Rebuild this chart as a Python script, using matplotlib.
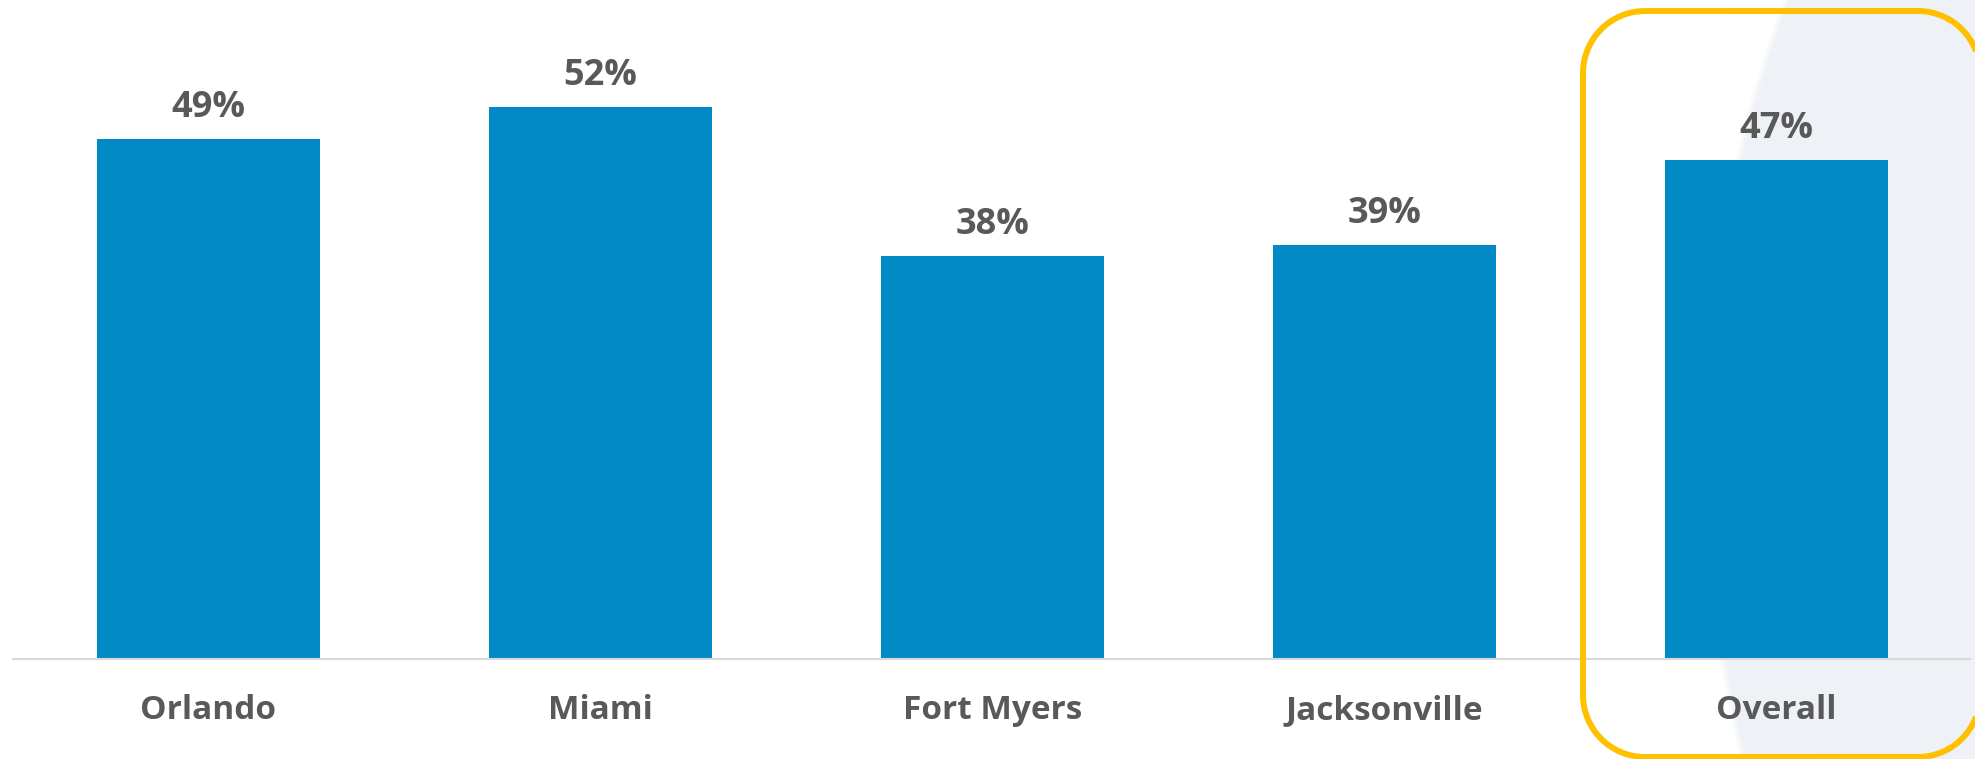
import numpy as np
import matplotlib
matplotlib.use("Agg")
import matplotlib.pyplot as plt
from matplotlib.patches import Circle
from matplotlib.lines import Line2D

# Share of respondents by market
categories = ["Orlando", "Miami", "Fort Myers", "Jacksonville", "Overall"]
values = [49, 52, 38, 39, 47]
value_labels = ["49%", "52%", "38%", "39%", "47%"]

BAR_COLOR = "#0189C6"
TEXT_COLOR = "#595959"
plt.rcParams["font.family"] = ["Open Sans", "DejaVu Sans"]

W, H, DPI = 1975, 759, 100
fig = plt.figure(figsize=(W / DPI, H / DPI), dpi=DPI)
fig.patch.set_facecolor("white")

# Soft grey-blue backdrop on the right edge
R = 1300
for k, alpha in enumerate([0.35, 0.6, 1.0]):
    fig.add_artist(Circle(((1703 + R + k * 3) / DPI, (H - 450) / DPI), R / DPI,
                          transform=fig.dpi_scale_trans, facecolor="#EEF1F6",
                          edgecolor="none", alpha=alpha, zorder=-2 + k * 0.1))

ax = fig.add_axes([13 / W, (H - 658.7) / H, 1957 / W, 658.7 / H])
ax.set_facecolor("none")

x = list(range(len(categories)))
bars = ax.bar(x, values, width=0.57, color=BAR_COLOR, zorder=2)

ax.set_xlim(-0.4987, 4.4936)
ax.set_ylim(0, 62.1)

for spine in ("top", "right", "left"):
    ax.spines[spine].set_visible(False)
ax.spines["bottom"].set_color("#D9D9D9")
ax.spines["bottom"].set_linewidth(1.5)
ax.set_yticks([])
ax.set_xticks([])

for xi, v, lab in zip(x, values, value_labels):
    ax.annotate(lab, (xi, v), xytext=(0, 22 * 72 / DPI), textcoords="offset points",
                ha="center", va="baseline", fontsize=26, fontweight="bold",
                color=TEXT_COLOR)

for xi, cat in zip(x, categories):
    ax.annotate(cat, (xi, 0), xytext=(0, -60 * 72 / DPI), textcoords="offset points",
                ha="center", va="baseline", fontsize=24, fontweight="bold",
                color=TEXT_COLOR, annotation_clip=False)


def rounded_outline(x0, y0, x1, y1, r, n=40):
    """Rounded-rectangle outline (pixel units, y up), open on its right side."""
    pts = []
    corners = [(x1 - r, y1 - r, 0), (x0 + r, y1 - r, 90),
               (x0 + r, y0 + r, 180), (x1 - r, y0 + r, 270)]
    for cx, cy, a0 in corners:
        t = np.radians(np.linspace(a0, a0 + 90, n))
        pts.extend(zip(cx + r * np.cos(t), cy + r * np.sin(t)))
    return np.array(pts)


# Highlight frame around the overall column (its right side runs off the canvas)
frame = rounded_outline(1583, H - 757, 1980, H - 11, 62) / DPI
fig.add_artist(Line2D(frame[:, 0], frame[:, 1], transform=fig.dpi_scale_trans,
                      color="#FFC000", linewidth=6 * 72 / DPI,
                      solid_capstyle="butt", zorder=5))

fig.savefig("out.png", dpi=DPI)
